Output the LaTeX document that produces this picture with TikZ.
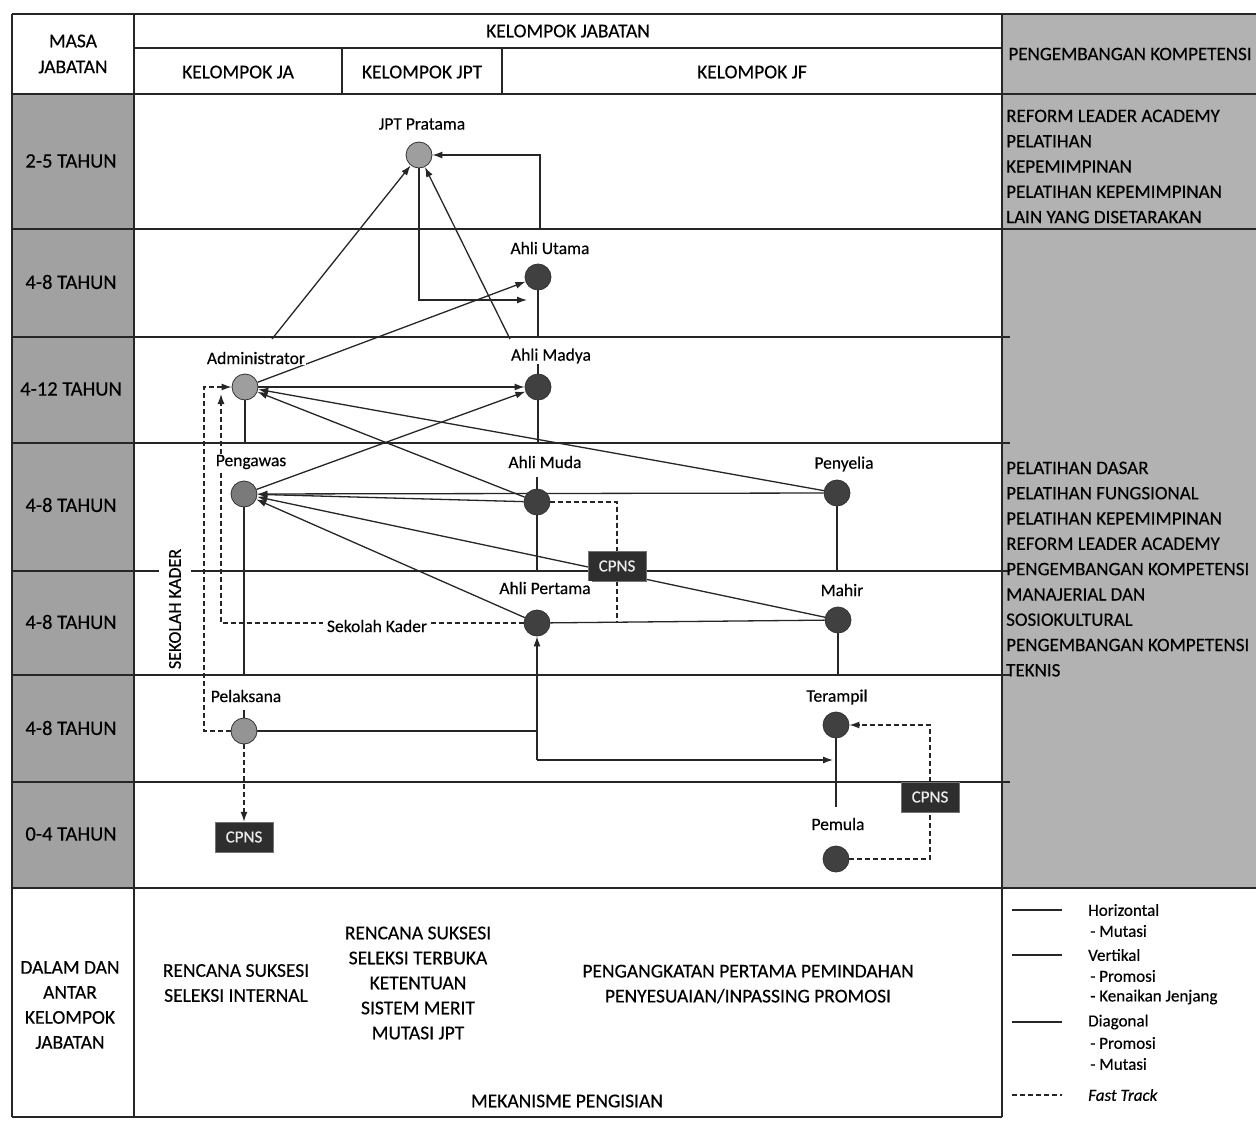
\documentclass[tikz,border=0pt]{standalone}
\usepackage{fontspec}
\setmainfont{Carlito}[FakeBold=0.35]
\usetikzlibrary{arrows.meta}
\pgfdeclarelayer{back}
\pgfdeclarelayer{conn}
\pgfsetlayers{back,conn,main}
\begin{document}
\begin{tikzpicture}[x=1pt,y=-1pt,
  hd/.style={font=\fontsize{19.5}{22}\selectfont, inner sep=0pt},
  rowt/.style={font=\fontsize{20.5}{23}\selectfont, inner sep=0pt},
  rtxt/.style={font=\fontsize{19}{22}\selectfont, inner sep=0pt, anchor=base west},
  lg/.style={font=\fontsize{17}{20}\selectfont, inner sep=0pt, anchor=west},
  lbl/.style={font=\fontsize{17.5}{20}\selectfont, fill=white, inner sep=1pt},
  posnode/.style={circle, minimum size=26pt, inner sep=0pt, draw=black!80, line width=0.8pt},
  jfpos/.style={posnode, fill=black!75},
  japos/.style={posnode, fill=black!38},
  cp/.style={fill=black!82, draw=black!55, text=black!8, minimum width=58pt, minimum height=30pt, inner sep=0pt, font=\fontsize{17}{20}\selectfont},
  grid/.style={line width=1.4pt, draw=black!85},
  ln/.style={line width=1.3pt, draw=black!85},
  ar/.style={ln, -{Latex[length=10pt,width=7pt]}},
  fast/.style={line width=1.3pt, draw=black!85, dash pattern=on 5pt off 3pt},
  fastar/.style={fast, -{Latex[length=10pt,width=7pt]}}
]
\useasboundingbox (0,0) rectangle (1256,1121);

% ---------- background fills and table ----------
\begin{pgfonlayer}{back}
\fill[white] (0,0) rectangle (1256,1121);
\fill[black!37] (12,94) rectangle (134,888);
\fill[black!30] (1002,14) rectangle (1256,888);
\draw[grid] (12,14) -- (1256,14);
\draw[grid] (134,48) -- (1002,48);
\draw[grid] (12,94) -- (1256,94);
\draw[grid] (12,229) -- (1256,229);
\foreach \yy in {337,443,571,675,782} \draw[grid] (12,\yy) -- (1010,\yy);
\draw[grid] (12,888) -- (1256,888);
\draw[grid] (12,1117) -- (1002,1117);
\draw[grid] (12,14) -- (12,1117);
\draw[grid] (134,14) -- (134,1117);
\draw[grid] (1002,14) -- (1002,1117);
\draw[grid] (342,48) -- (342,94);
\draw[grid] (502,48) -- (502,94);
\end{pgfonlayer}

% ---------- header texts ----------
\node[hd] (hmasa1) at (73,41) {MASA};
\node[hd] (hmasa2) at (73,67) {JABATAN};
\node[hd] (hkj) at (568,31) {KELOMPOK JABATAN};
\node[hd] (hja) at (238,72) {KELOMPOK JA};
\node[hd] (hjpt) at (422,72) {KELOMPOK JPT};
\node[hd] (hjf) at (752,72) {KELOMPOK JF};
\node[rtxt, anchor=center] (hpk) at (1130,54) {PENGEMBANGAN KOMPETENSI};

% ---------- row labels ----------
\node[rowt] (t1) at (71,161) {2-5 TAHUN};
\node[rowt] (t2) at (71,282) {4-8 TAHUN};
\node[rowt] (t3) at (71,389) {4-12 TAHUN};
\node[rowt] (t4) at (71,505) {4-8 TAHUN};
\node[rowt] (t5) at (71,622) {4-8 TAHUN};
\node[rowt] (t6) at (71,728) {4-8 TAHUN};
\node[rowt] (t7) at (71,834) {0-4 TAHUN};

% ---------- right column texts ----------
\foreach \t [count=\i] in {REFORM LEADER ACADEMY, PELATIHAN, KEPEMIMPINAN, PELATIHAN KEPEMIMPINAN, LAIN YANG DISETARAKAN}
  \node[rtxt] (ra\i) at (1006,{122+25.3*(\i-1)}) {\t};
\foreach \t [count=\i] in {PELATIHAN DASAR, PELATIHAN FUNGSIONAL, PELATIHAN KEPEMIMPINAN, REFORM LEADER ACADEMY, PENGEMBANGAN KOMPETENSI, MANAJERIAL DAN, SOSIOKULTURAL, PENGEMBANGAN KOMPETENSI, TEKNIS}
  \node[rtxt] (rb\i) at (1006,{474+25.3*(\i-1)}) {\t};

% ---------- bottom row ----------
\node[hd, align=center] (bl) at (70,1005) {DALAM DAN\\[3pt]ANTAR\\[3pt]KELOMPOK\\[3pt]JABATAN};
\node[hd, align=center] (bja) at (236,983) {RENCANA SUKSESI\\[3pt]SELEKSI INTERNAL};
\node[hd, align=center] (bjpt) at (418,983) {RENCANA SUKSESI\\[3pt]SELEKSI TERBUKA\\[3pt]KETENTUAN\\[3pt]SISTEM MERIT\\[3pt]MUTASI JPT};
\node[hd, align=center] (bjf) at (748,984) {PENGANGKATAN PERTAMA PEMINDAHAN\\[3pt]PENYESUAIAN/INPASSING PROMOSI};
\node[hd] (bmek) at (567,1101) {MEKANISME PENGISIAN};

% ---------- legend ----------
\coordinate (lh1) at (1012,910); \coordinate (lh2) at (1062,910);
\coordinate (lv1) at (1012,955); \coordinate (lv2) at (1062,955);
\coordinate (ld1) at (1012,1022); \coordinate (ld2) at (1062,1022);
\coordinate (lf1) at (1012,1095); \coordinate (lf2) at (1062,1095);
\draw[ln] (lh1) -- (lh2);
\draw[ln] (lv1) -- (lv2);
\draw[ln] (ld1) -- (ld2);
\draw[fast] (lf1) -- (lf2);
\node[lg] (lgh) at (1088,910) {Horizontal};
\node[lg] (lgh1) at (1090,931) {- Mutasi};
\node[lg] (lgv) at (1088,955) {Vertikal};
\node[lg] (lgv1) at (1090,976) {- Promosi};
\node[lg] (lgv2) at (1090,997) {- Kenaikan Jenjang};
\node[lg] (lgd) at (1088,1022) {Diagonal};
\node[lg] (lgd1) at (1090,1043) {- Promosi};
\node[lg] (lgd2) at (1090,1064) {- Mutasi};
\node[lg] (lgf) at (1088,1095) {\itshape Fast Track};

% ---------- position nodes ----------
\node[japos] (jpt) at (419,155) {};
\node[jfpos] (utama) at (538,277) {};
\node[japos] (admin) at (245,387) {};
\node[jfpos] (madya) at (538,387) {};
\node[posnode, fill=black!52] (pengawas) at (244,494) {};
\node[jfpos] (muda) at (537,502) {};
\node[jfpos] (penyelia) at (837,493) {};
\node[jfpos] (pertama) at (537,623) {};
\node[jfpos] (mahir) at (838,620) {};
\node[posnode, fill=black!42] (pelaksana) at (244,731) {};
\node[jfpos] (terampil) at (836,725) {};
\node[jfpos] (pemula) at (836,859) {};

\node[cp] (cpnsA) at (244,837) {CPNS};
\node[cp] (cpnsB) at (617,566) {CPNS};
\node[cp] (cpnsC) at (930,797) {CPNS};

% ---------- labels ----------
\node[lbl] (Ljpt) at (422,124) {JPT Pratama};
\node[lbl] (Lutama) at (550,248) {Ahli Utama};
\node[lbl] (Ladmin) at (256,358) {Administrator};
\node[lbl] (Lmadya) at (551,356) {Ahli Madya};
\node[lbl] (Lpengawas) at (251,462) {Pengawas};
\node[lbl] (Lmuda) at (545,462) {Ahli Muda};
\node[lbl] (Lpenyelia) at (844,464) {Penyelia};
\node[lbl] (Lpertama) at (545,588) {Ahli Pertama};
\node[lbl] (Lmahir) at (842,590) {Mahir};
\node[lbl] (Lpelaksana) at (246,696) {Pelaksana};
\node[lbl] (Lterampil) at (837,697) {Terampil};
\node[lbl] (Lpemula) at (838,824) {Pemula};
\node[lbl, inner xsep=4pt] (Lsk) at (377,626) {Sekolah Kader};
\node[lbl, font=\fontsize{18}{21}\selectfont, rotate=90, inner ysep=10pt, inner xsep=2pt] (Lsk2) at (175,609) {SEKOLAH KADER};

% ---------- helper coordinates ----------
\coordinate (r3) at (0,337);
\coordinate (r4) at (0,443);
\coordinate (r5) at (0,571);
\coordinate (r6) at (0,675);
\coordinate (aJ) at (272,339);
\coordinate (mJ) at (510,339);
\coordinate (uJ) at (540,229);
\coordinate (uA) at (527,300);
\coordinate (tB) at (836,807);
\coordinate (j1) at (537,731);
\coordinate (j2) at (537,760);
\coordinate (j3) at (833,760);
\coordinate (fA) at (204,731);
\coordinate (fB) at (221,623);
\coordinate (fC) at (221,394);

% ---------- connectors ----------
\begin{pgfonlayer}{conn}
% to JPT Pratama
\draw[ar] (aJ) -- (jpt);
\draw[ar] (mJ) -- (jpt);
\draw[ar] (uJ) |- (jpt);
\draw[ar] (jpt) |- (uA);
% vertical lines
\draw[ln] (utama) -- (utama |- r3);
\draw[ln] (madya.north) -- ++(0,-10);
\draw[ln] (madya) -- (madya |- r4);
\draw[ln] (muda.north) -- ++(0,-12);
\draw[ln] (muda) -- (muda |- r5);
\draw[ln] (admin) -- (admin |- r4);
\draw[ln] (pengawas) -- (pengawas |- r6);
\draw[ln] (pelaksana.north) -- ++(0,-8);
\draw[ln] (penyelia) -- (penyelia |- r5);
\draw[ln] (mahir) -- (mahir |- r6);
\draw[ln] (terampil) -- (tB);
\draw[ln] (pelaksana) -- (j1);
\draw[ar] (j2) -- (pertama);
\draw[ar] (j2) -- (j3);
% horizontal and diagonal
\draw[ar] (admin) -- (madya);
\draw[ar] (admin) -- (utama);
\draw[ar] (muda) -- (admin);
\draw[ar] (penyelia) -- (admin);
\draw[ar] (pengawas) -- (madya);
\draw[ar] (muda) -- (pengawas);
\draw[ar] (penyelia) -- (pengawas);
\draw[ar] (mahir) -- (pengawas);
\draw[ar] (pertama) -- (pengawas);
\draw[ln] (pertama) -- (mahir);
% fast track
\draw[fastar] (pelaksana) -- (fA) |- (admin);
\draw[fastar] (pertama) -- (fB) -- (fC);
\draw[fast] (muda) -| (cpnsB);
\draw[fast] (cpnsB) -- (cpnsB |- pertama);
\draw[fastar] (pelaksana) -- (cpnsA);
\draw[fast] (pemula) -| (cpnsC);
\draw[fastar] (cpnsC) |- (terampil);
\end{pgfonlayer}
\end{tikzpicture}
\end{document}
